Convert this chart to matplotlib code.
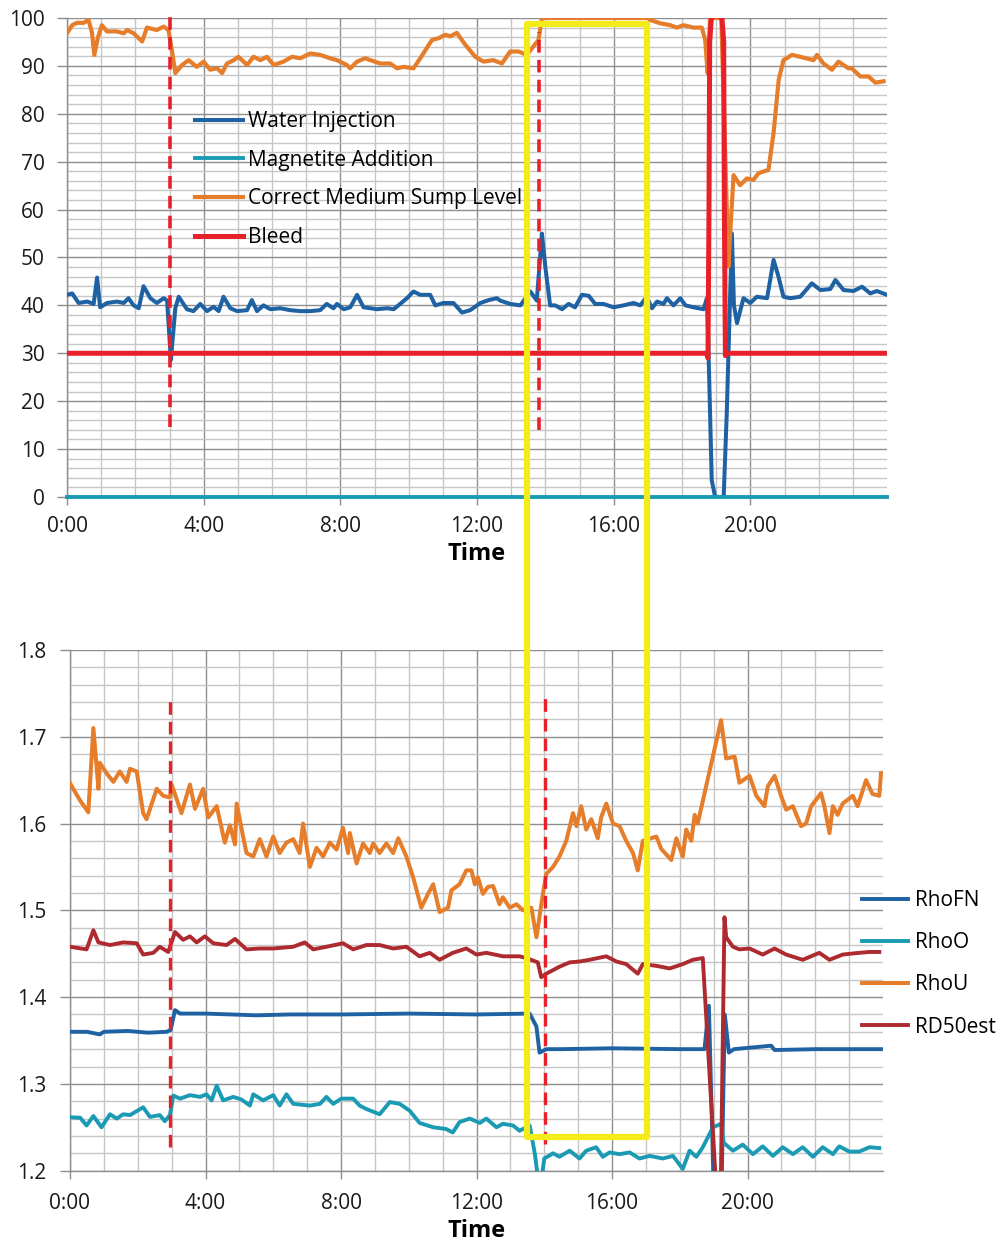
import matplotlib
matplotlib.use('Agg')
import matplotlib.pyplot as plt
from matplotlib.ticker import FixedLocator, FixedFormatter
from matplotlib.patches import Rectangle

plt.rcParams['font.family'] = ['Open Sans', 'DejaVu Sans']

# ---------------- data (hours of day, values) ----------------
x_ticks = [0, 4, 8, 12, 16, 20]
x_tick_labels = ['0:00', '4:00', '8:00', '12:00', '16:00', '20:00']
top_y_ticks = [0, 10, 20, 30, 40, 50, 60, 70, 80, 90, 100]
bot_y_ticks = [1.2, 1.3, 1.4, 1.5, 1.6, 1.7, 1.8]
bot_y_labels = ['1.2', '1.3', '1.4', '1.5', '1.6', '1.7', '1.8']

wi_t = [0, 0.15, 0.34, 0.59, 0.78, 0.88, 0.97, 1.17, 1.46, 1.66, 1.8, 1.95, 2.1, 2.24, 2.44, 2.63,
        2.83, 2.93, 3.04, 3.17, 3.27, 3.51, 3.7, 3.9, 4.1, 4.29, 4.44, 4.58, 4.78, 4.98, 5.27, 5.41,
        5.56, 5.75, 5.95, 6.24, 6.53, 6.83, 7.12, 7.41, 7.6, 7.8, 7.9, 8.1, 8.29, 8.49, 8.68, 8.88,
        9.07, 9.37, 9.56, 9.75, 9.95, 10.14, 10.34, 10.63, 10.78, 11.02, 11.31, 11.56, 11.8, 12.1,
        12.34, 12.58, 12.68, 12.97, 13.27, 13.56, 13.75, 13.9, 14.0, 14.14, 14.29, 14.49, 14.68,
        14.87, 15.07, 15.27, 15.46, 15.7, 16.0, 16.29, 16.58, 16.78, 16.97, 17.12, 17.27, 17.46,
        17.56, 17.75, 17.95, 18.1, 18.34, 18.63, 18.73, 18.78, 18.87, 18.97, 19.22, 19.31, 19.46,
        19.52, 19.61, 19.8, 20.0, 20.19, 20.49, 20.68, 20.82, 20.97, 21.17, 21.46, 21.8, 22.05,
        22.34, 22.49, 22.73, 23.02, 23.27, 23.51, 23.7, 24.0]
wi_v = [42.2, 42.5, 40.5, 40.8, 40.3, 45.8, 39.6, 40.5, 40.8, 40.5, 41.5, 40.0, 39.4, 44.0, 41.5, 40.5,
        41.5, 41.0, 28.6, 39.4, 41.8, 39.2, 38.8, 40.3, 38.8, 39.7, 38.8, 41.8, 39.4, 38.8, 39.0, 41.1,
        38.8, 40.0, 39.2, 39.4, 39.0, 38.8, 38.8, 39.0, 40.3, 39.4, 40.3, 39.2, 39.6, 42.2, 39.6, 39.4,
        39.2, 39.4, 39.2, 40.3, 41.5, 42.9, 42.2, 42.2, 40.0, 40.5, 40.5, 38.5, 39.0, 40.5,
        41.1, 41.5, 41.0, 40.3, 40.0, 42.9, 41.0, 55.0, 48.0, 40.0, 40.0, 39.2, 40.3,
        39.6, 42.2, 42.0, 40.3, 40.3, 39.6, 40.0, 40.5, 40.0, 41.8, 39.4, 40.8, 40.3,
        41.5, 40.0, 41.5, 40.0, 39.6, 39.2, 41.5, 29.3, 3.5, 0.0, 0.0, 17.5, 55.0,
        40.0, 36.3, 41.5, 40.5, 41.8, 41.5, 49.5, 46.1, 41.8, 41.5, 41.8, 44.6, 43.2,
        43.4, 45.3, 43.2, 43.0, 43.9, 42.5, 43.0, 42.2]

mag_t = [0, 24]
mag_v = [0, 0]

cs_t = [0, 0.15, 0.29, 0.49, 0.63, 0.73, 0.8, 0.9, 1.02, 1.17, 1.46, 1.66, 1.76, 1.95, 2.2, 2.34,
        2.63, 2.83, 2.97, 3.07, 3.17, 3.37, 3.56, 3.8, 4.0, 4.19, 4.39, 4.54, 4.68, 4.88, 5.02,
        5.27, 5.46, 5.66, 5.85, 6.05, 6.34, 6.58, 6.83, 7.12, 7.41, 7.7, 7.9, 8.19, 8.29, 8.49,
        8.73, 8.88, 9.17, 9.46, 9.66, 9.85, 10.14, 10.34, 10.68, 10.88, 11.07, 11.22, 11.41, 11.66,
        11.95, 12.19, 12.48, 12.73, 12.97, 13.22, 13.46, 13.61, 13.8, 13.9, 15.0, 17.0, 17.07,
        17.36, 17.66, 17.85, 18.04, 18.34, 18.58, 18.68, 18.75, 18.82, 19.15, 19.36, 19.41, 19.51,
        19.7, 19.9, 20.09, 20.24, 20.53, 20.68, 20.83, 20.97, 21.22, 21.46, 21.85, 21.95, 22.14,
        22.39, 22.58, 22.87, 22.97, 23.22, 23.46, 23.66, 23.9]
cs_v = [96.8, 98.5, 99.0, 99.0, 99.6, 97.0, 92.3, 95.8, 98.5, 97.2, 97.2, 96.8, 97.5, 96.8, 95.1, 98.0,
        97.5, 98.2, 97.5, 93.3, 88.5, 90.2, 91.2, 89.8, 90.9, 89.2, 89.5, 88.5, 90.5, 91.2, 91.9,
        90.2, 91.9, 91.2, 91.9, 90.2, 90.9, 91.9, 91.6, 92.6, 92.3, 91.6, 91.2, 90.2, 89.5, 90.9,
        91.6, 91.2, 90.5, 90.5, 89.5, 89.8, 89.5, 91.6, 95.4, 95.8, 96.5, 96.2, 96.9, 94.4,
        91.9, 90.9, 91.2, 90.5, 93.0, 93.0, 92.3, 93.7, 95.4, 100.0, 100.0, 100.0, 99.6,
        98.9, 98.5, 98.0, 98.5, 98.0, 98.0, 95.4, 88.5, 100.0, 100.0, 48.1, 55.0, 67.2,
        65.1, 66.5, 66.2, 67.6, 68.3, 76.0, 87.1, 91.2, 92.3, 91.9, 91.2, 92.3, 90.5,
        89.2, 90.9, 89.5, 89.5, 87.8, 87.8, 86.5, 86.8]

bl_t = [0, 18.72, 18.76, 18.79, 18.81, 18.86, 19.0, 19.17, 19.22, 19.24, 19.27, 19.31, 24]
bl_v = [30, 30, 29, 60, 95, 100, 100.8, 100, 95, 60, 29.5, 30, 30]

# bottom panel
fn_t = [0, 0.5, 0.88, 1.0, 1.7, 2.3, 2.85, 2.97, 3.1, 3.25, 4.0, 5.5, 6.5, 8.0, 10, 12, 13.57,
        13.77, 13.86, 14.06, 14.5, 16, 18, 18.73, 18.86, 19.02, 19.22, 19.33, 19.45, 19.6, 20.7,
        20.8, 22, 23.94]
fn_v = [1.36, 1.36, 1.357, 1.36, 1.361, 1.359, 1.36, 1.362, 1.385, 1.381, 1.381, 1.379, 1.38, 1.38,
        1.381, 1.38, 1.381, 1.366, 1.336, 1.34, 1.34, 1.341, 1.34, 1.34, 1.39, 1.15, 1.15, 1.38,
        1.336, 1.34, 1.344, 1.339, 1.34, 1.34]

ro_t = [0, 0.3, 0.49, 0.69, 0.93, 1.18, 1.38, 1.57, 1.77, 2.16, 2.36, 2.65, 2.8, 2.95, 3.05, 3.25,
        3.54, 3.84, 4.03, 4.18, 4.33, 4.52, 4.82, 5.06, 5.31, 5.41, 5.7, 6.0, 6.19, 6.39, 6.59,
        7.08, 7.38, 7.57, 7.77, 8.01, 8.36, 8.55, 8.75, 9.14, 9.44, 9.73, 10.03, 10.32, 10.72,
        11.1, 11.3, 11.5, 11.8, 12.1, 12.29, 12.59, 12.78, 13.08, 13.27, 13.57, 13.72, 13.82,
        13.92, 14.0, 14.26, 14.45, 14.75, 15.04, 15.24, 15.53, 15.73, 15.93, 16.22, 16.52, 16.81,
        17.11, 17.5, 17.8, 18.09, 18.29, 18.49, 18.68, 18.98, 19.22, 19.3, 19.57, 19.86, 20.16,
        20.45, 20.75, 21.04, 21.34, 21.63, 21.93, 22.22, 22.52, 22.71, 23.0, 23.3, 23.6, 23.89]
ro_v = [1.2615, 1.261, 1.252, 1.263, 1.25, 1.265, 1.26, 1.265, 1.264, 1.273, 1.262, 1.264, 1.257,
        1.264, 1.2865, 1.283, 1.287, 1.285, 1.288, 1.281, 1.298, 1.281, 1.285, 1.282, 1.275, 1.288,
        1.281, 1.287, 1.275, 1.288, 1.277, 1.275, 1.277, 1.285, 1.277, 1.283, 1.283, 1.275, 1.271,
        1.265, 1.279, 1.277, 1.269, 1.255, 1.25, 1.248, 1.244, 1.256, 1.26, 1.255, 1.26, 1.25,
        1.254, 1.252, 1.246, 1.252, 1.22, 1.19, 1.19, 1.214, 1.22, 1.216, 1.223, 1.214, 1.223,
        1.227, 1.216, 1.221, 1.219, 1.221, 1.214, 1.217, 1.214, 1.217, 1.202, 1.223, 1.216, 1.227,
        1.25, 1.254, 1.232, 1.223, 1.23, 1.219, 1.228, 1.217, 1.227, 1.219, 1.227, 1.216, 1.227,
        1.219, 1.228, 1.222, 1.222, 1.227, 1.226]

ru_t = [0.0, 0.29, 0.54, 0.69, 0.84, 0.88, 1.08, 1.28, 1.47, 1.67, 1.77, 1.97, 2.16, 2.26, 2.56,
        2.75, 2.95, 3.0, 3.29, 3.54, 3.69, 3.93, 4.08, 4.33, 4.57, 4.72, 4.87, 4.92, 5.11, 5.21,
        5.41, 5.6, 5.8, 6.0, 6.19, 6.39, 6.59, 6.78, 6.88, 7.08, 7.28, 7.47, 7.67, 7.87, 8.06,
        8.21, 8.26, 8.46, 8.65, 8.85, 8.95, 9.14, 9.34, 9.54, 9.69, 9.93, 10.13, 10.37, 10.57,
        10.72, 10.91, 11.16, 11.26, 11.5, 11.7, 11.85, 11.95, 12.04, 12.19, 12.34, 12.49, 12.68,
        12.78, 12.98, 13.18, 13.37, 13.62, 13.77, 13.96, 14.06, 14.26, 14.45, 14.65, 14.85, 14.95,
        15.09, 15.24, 15.39, 15.58, 15.68, 15.83, 16.03, 16.22, 16.42, 16.62, 16.76, 16.91, 17.31,
        17.45, 17.75, 17.9, 18.09, 18.19, 18.34, 18.44, 18.53, 19.22, 19.37, 19.62, 19.76, 20.06,
        20.26, 20.5, 20.6, 20.8, 20.99, 21.14, 21.34, 21.58, 21.73, 21.88, 22.17, 22.27, 22.42,
        22.52, 22.66, 22.81, 23.11, 23.25, 23.5, 23.69, 23.89, 23.94]
ru_v = [1.6465, 1.627, 1.613, 1.71, 1.64, 1.67, 1.658, 1.648, 1.66, 1.648, 1.663, 1.66, 1.612, 1.605,
        1.64, 1.632, 1.63, 1.645, 1.612, 1.645, 1.617, 1.64, 1.607, 1.62, 1.578, 1.598, 1.576, 1.623,
        1.585, 1.566, 1.562, 1.582, 1.562, 1.585, 1.566, 1.578, 1.582, 1.566, 1.6, 1.55, 1.572,
        1.562, 1.578, 1.57, 1.595, 1.566, 1.589, 1.554, 1.577, 1.566, 1.577, 1.566, 1.577, 1.566,
        1.583, 1.562, 1.538, 1.503, 1.519, 1.53, 1.498, 1.503, 1.523, 1.53, 1.546, 1.546, 1.53,
        1.538, 1.519, 1.527, 1.528, 1.507, 1.515, 1.503, 1.507, 1.5, 1.503, 1.469, 1.519, 1.542,
        1.55, 1.562, 1.58, 1.612, 1.597, 1.62, 1.593, 1.605, 1.583, 1.607, 1.623, 1.60, 1.597,
        1.58, 1.566, 1.546, 1.58, 1.585, 1.571, 1.558, 1.583, 1.562, 1.593, 1.58, 1.61, 1.60,
        1.719, 1.675, 1.677, 1.647, 1.655, 1.632, 1.62, 1.643, 1.655, 1.632, 1.616, 1.62, 1.597,
        1.60, 1.62, 1.635, 1.62, 1.589, 1.62, 1.61, 1.623, 1.632, 1.62, 1.65, 1.634, 1.632, 1.658]

rd_t = [0.0, 0.49, 0.69, 0.84, 1.18, 1.57, 1.97, 2.16, 2.46, 2.65, 2.9, 3.1, 3.34, 3.54, 3.74,
        3.98, 4.23, 4.62, 4.87, 5.21, 5.6, 6.0, 6.59, 6.93, 7.18, 7.57, 8.06, 8.36, 8.75, 9.14,
        9.54, 9.93, 10.32, 10.62, 10.91, 11.3, 11.7, 12.0, 12.29, 12.78, 13.27, 13.47, 13.81,
        13.91, 14.06, 14.45, 14.75, 15.04, 15.34, 15.83, 16.13, 16.42, 16.76, 16.91, 17.31, 17.7,
        18.09, 18.39, 18.68, 19.12, 19.2, 19.32, 19.37, 19.57, 19.76, 20.06, 20.45, 20.8, 21.14,
        21.63, 22.12, 22.42, 22.81, 23.3, 23.6, 23.89]
rd_v = [1.458, 1.455, 1.477, 1.463, 1.46, 1.463, 1.462, 1.449, 1.451, 1.458, 1.452, 1.475, 1.466,
        1.47, 1.463, 1.47, 1.462, 1.46, 1.467, 1.455, 1.456, 1.456, 1.458, 1.463, 1.455, 1.458,
        1.462, 1.455, 1.46, 1.46, 1.456, 1.458, 1.447, 1.451, 1.443, 1.451, 1.456, 1.449, 1.451,
        1.447, 1.447, 1.445, 1.44, 1.423, 1.427, 1.435, 1.44, 1.441, 1.443, 1.447, 1.441, 1.438,
        1.427, 1.438, 1.436, 1.433, 1.438, 1.443, 1.445, 1.15, 1.15, 1.492, 1.469, 1.458, 1.455,
        1.456, 1.449, 1.456, 1.449, 1.443, 1.451, 1.443, 1.449, 1.451, 1.452, 1.452]

# event markers (red dashed) and highlight window
top_event_hours = [3.02, 13.8]
top_event_low = [14.7, 14.0]
top_event_high = [100.6, 97.0]
bot_event_hours = [2.95, 14.01]
bot_event_low = [1.227, 1.231]
bot_event_high = [1.742, 1.746]
highlight_hours = [13.46, 16.97]
highlight_top_value = 98.85
highlight_bottom_value = 1.2387

# ---------------- colours ----------------
C_BLUE = '#1f62a4'
C_TEAL = '#1a9bb3'
C_ORANGE = '#e57d2b'
C_RED = '#e8202a'
C_DRED = '#ad2a2f'
C_YELLOW = '#f3ec1a'

FS = 15

fig = plt.figure(figsize=(10, 12.43), dpi=100)
ax1 = fig.add_axes([0.067, 0.6002, 0.820, 0.3853])
ax2 = fig.add_axes([0.070, 0.0582, 0.813, 0.4189])


def style(ax, ylim, yticks, yminor, xpad, ylabelpad, ylabels=None):
    ax.set_xlim(0, 24)
    ax.set_ylim(*ylim)
    ax.xaxis.set_major_locator(FixedLocator(x_ticks))
    ax.xaxis.set_major_formatter(FixedFormatter(x_tick_labels))
    ax.xaxis.set_minor_locator(FixedLocator([h for h in range(1, 24) if h % 4 != 0]))
    ax.yaxis.set_major_locator(FixedLocator(yticks))
    if ylabels is not None:
        ax.yaxis.set_major_formatter(FixedFormatter(ylabels))
    ax.yaxis.set_minor_locator(FixedLocator(yminor))
    ax.set_axisbelow(True)
    ax.grid(which='major', color='#8e8e8e', lw=1.0)
    ax.grid(which='minor', color='#c6c6c6', lw=1.0)
    for s in ['top', 'right']:
        ax.spines[s].set_visible(False)
    for s in ['left', 'bottom']:
        ax.spines[s].set_color('#8e8e8e')
        ax.spines[s].set_linewidth(1.0)
    ax.tick_params(which='major', axis='x', length=6, width=1, color='#8e8e8e',
                   labelsize=FS, pad=xpad, labelcolor='#1a1a1a')
    ax.tick_params(which='major', axis='y', length=7, width=1, color='#8e8e8e',
                   labelsize=FS, pad=ylabelpad, labelcolor='#1a1a1a')
    ax.tick_params(which='minor', length=0)


style(ax1, (0, 100), top_y_ticks, [v for v in range(0, 101, 2) if v % 10 != 0], 8, 9)
style(ax2, (1.2, 1.8), bot_y_ticks, [1.2 + 0.02 * i for i in range(31) if i % 5 != 0], 10, 10,
      bot_y_labels)
ax1.set_xlabel('Time', fontsize=17, fontweight='bold', labelpad=3.5)
ax2.set_xlabel('Time', fontsize=17, fontweight='bold', labelpad=3.5)

# ----- top panel -----
l1, = ax1.plot(wi_t, wi_v, color=C_BLUE, lw=2.9, label='Water Injection', zorder=3)
l2, = ax1.plot(mag_t, mag_v, color=C_TEAL, lw=2.8, label='Magnetite Addition', zorder=3, clip_on=False)
l3, = ax1.plot(cs_t, cs_v, color=C_ORANGE, lw=3.0, label='Correct Medium Sump Level', zorder=4)
l4, = ax1.plot(bl_t, bl_v, color=C_RED, lw=3.6, label='Bleed', zorder=5)
ax1.vlines(top_event_hours, top_event_low, top_event_high, colors=C_RED, lw=2.6,
           linestyles=(0, (3.5, 2.0)), zorder=6, clip_on=False)

fig.legend(handles=[l1, l2, l3, l4], loc='upper left', bbox_to_anchor=(0.195, 0.9107),
           bbox_transform=fig.transFigure, frameon=False, fontsize=FS, borderpad=0,
           borderaxespad=0, handlelength=2.3, handletextpad=0.24, labelspacing=0.85)

# ----- bottom panel -----
m1, = ax2.plot(fn_t, fn_v, color=C_BLUE, lw=2.8, label='RhoFN', zorder=3)
m2, = ax2.plot(ro_t, ro_v, color=C_TEAL, lw=2.8, label='RhoO', zorder=3)
m3, = ax2.plot(ru_t, ru_v, color=C_ORANGE, lw=2.9, label='RhoU', zorder=4)
m4, = ax2.plot(rd_t, rd_v, color=C_DRED, lw=2.8, label='RD50est', zorder=4)
ax2.vlines(bot_event_hours, bot_event_low, bot_event_high, colors=C_RED, lw=2.4,
           linestyles=(0, (3.8, 2.1)), zorder=6)

fig.legend(handles=[m1, m2, m3, m4], loc='upper left', bbox_to_anchor=(0.862, 0.2840),
           bbox_transform=fig.transFigure, frameon=False, fontsize=FS, borderpad=0,
           borderaxespad=0, handlelength=2.2, handletextpad=0.34, labelspacing=1.02)

# ----- yellow highlight window spanning both panels -----
inv = fig.transFigure.inverted()
x0, y1 = inv.transform(ax1.transData.transform((highlight_hours[0], highlight_top_value)))
x1, _ = inv.transform(ax1.transData.transform((highlight_hours[1], highlight_top_value)))
_, y0 = inv.transform(ax2.transData.transform((highlight_hours[0], highlight_bottom_value)))
rect = Rectangle((x0, y0), x1 - x0, y1 - y0, transform=fig.transFigure, fill=False,
                 edgecolor=C_YELLOW, lw=4.5, joinstyle='round', zorder=20)
fig.add_artist(rect)

fig.savefig('out.png', dpi=100)
